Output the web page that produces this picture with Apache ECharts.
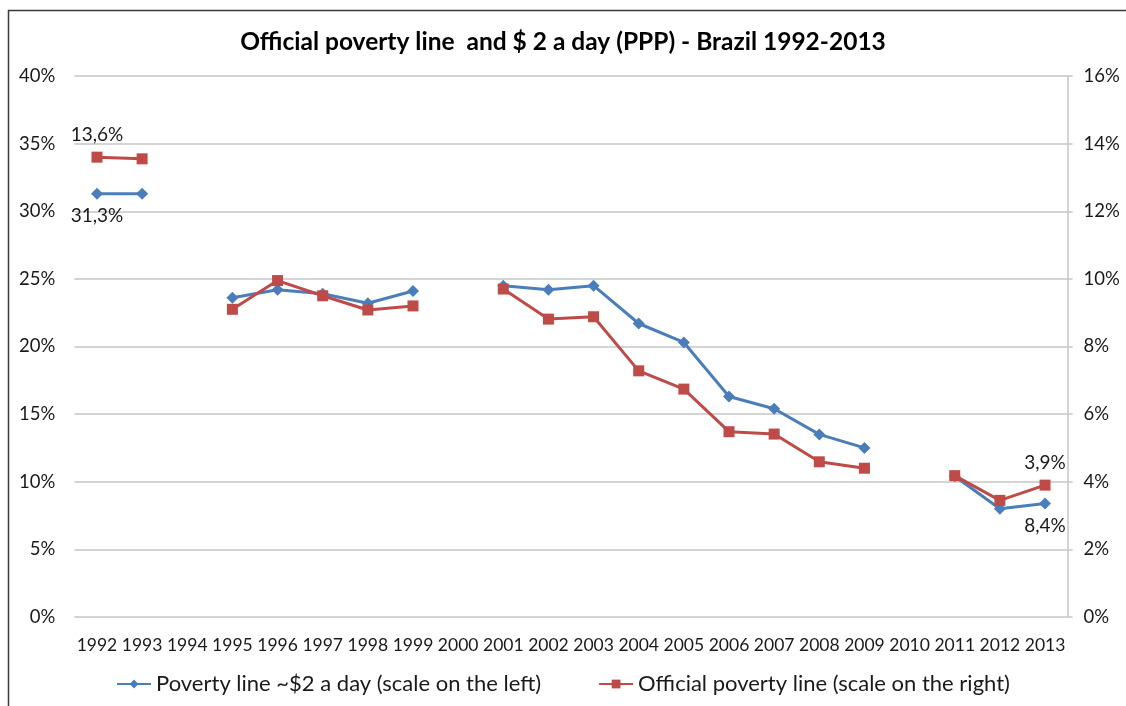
<!DOCTYPE html>
<html>
<head>
<meta charset="utf-8">
<script src="https://cdn.jsdelivr.net/npm/echarts@6/dist/echarts.min.js"></script>
<style>
  html, body { margin: 0; padding: 0; background: #fff; }
  #chart { width: 1126px; height: 706px; }
</style>
</head>
<body>
<div id="chart"></div>
<script>
// Years on the category axis
const years = ['1992','1993','1994','1995','1996','1997','1998','1999','2000','2001','2002',
               '2003','2004','2005','2006','2007','2008','2009','2010','2011','2012','2013'];

// Share of population below ~$2 a day (PPP), percent – left axis
const povertyTwoDollars = [31.3, 31.3, null, 23.6, 24.2, 23.9, 23.2, 24.1, null, 24.5, 24.2,
                           24.5, 21.7, 20.3, 16.3, 15.4, 13.5, 12.5, null, 10.4, 8.0, 8.4];

// Share below the official poverty line, percent – right axis
const povertyOfficial = [13.6, 13.55, null, 9.1, 9.95, 9.5, 9.08, 9.2, null, 9.7, 8.81,
                         8.88, 7.28, 6.74, 5.48, 5.41, 4.59, 4.4, null, 4.18, 3.45, 3.9];

// Tick settings for the two value axes
const leftTicks = { min: 0, max: 40, interval: 5 };
const rightTicks = { min: 0, max: 16, interval: 2 };

const seriesNames = ['Poverty line ~$2 a day (scale on the left)',
                     'Official poverty line (scale on the right)'];
const chartTitle = 'Official poverty line  and $ 2 a day (PPP) - Brazil 1992-2013';

const FONT = 'Lato';
const TEXT = '#1a1a1a';
const fmtPct = v => v.toFixed(1).replace('.', ',') + '%';

// Data points that carry a value label: index -> label position
const blueLabels = { 0: 'bottom', 21: 'bottom' };
const redLabels = { 0: 'top', 21: 'top' };

function buildData(values, labels) {
  return values.map((v, i) => {
    if (v === null) return '-';
    if (labels[i]) {
      return {
        value: v,
        label: {
          show: true, position: labels[i], distance: 7,
          formatter: () => fmtPct(v),
          fontFamily: FONT, fontSize: 19, color: TEXT
        }
      };
    }
    return v;
  });
}

const chart = echarts.init(document.getElementById('chart'), null, { renderer: 'canvas' });

chart.setOption({
  animation: false,
  backgroundColor: '#fff',
  title: {
    text: chartTitle,
    left: 'center',
    top: 25,
    textStyle: { fontFamily: FONT, fontWeight: 'bold', fontSize: 24.5, color: '#000' }
  },
  graphic: [{
    type: 'rect',
    shape: { x: 8.5, y: 10.5, width: 1130, height: 710 },
    style: { fill: 'none', stroke: '#3a3a3a', lineWidth: 1.5 },
    silent: true
  }],
  grid: { left: 74.4, right: 58.4, top: 76, bottom: 89, containLabel: false },
  legend: {
    bottom: 6,
    left: 'center',
    itemGap: 57,
    itemWidth: 34,
    itemHeight: 11,
    textStyle: { fontFamily: FONT, fontSize: 22, color: TEXT },
    data: seriesNames
  },
  xAxis: {
    type: 'category',
    data: years,
    boundaryGap: true,
    axisLine: { show: false },
    axisTick: { show: false },
    axisLabel: { fontFamily: FONT, fontSize: 17.5, color: TEXT, margin: 19, interval: 0 }
  },
  yAxis: [
    {
      type: 'value',
      position: 'left',
      min: leftTicks.min, max: leftTicks.max, interval: leftTicks.interval,
      axisLine: { show: false },
      axisTick: { show: false },
      splitLine: { lineStyle: { color: '#c6c6c6', width: 1.5 } },
      axisLabel: { fontFamily: FONT, fontSize: 18.5, color: TEXT, margin: 19,
                   formatter: v => v + '%' }
    },
    {
      type: 'value',
      position: 'right',
      min: rightTicks.min, max: rightTicks.max, interval: rightTicks.interval,
      axisLine: { show: true, lineStyle: { color: '#c6c6c6', width: 1.5 } },
      axisTick: { show: true, length: 5, lineStyle: { color: '#c6c6c6', width: 1.5 } },
      splitLine: { show: false },
      axisLabel: { fontFamily: FONT, fontSize: 18.5, color: TEXT, margin: 16,
                   formatter: v => v + '%' }
    }
  ],
  series: [
    {
      name: seriesNames[0],
      type: 'line',
      yAxisIndex: 0,
      data: buildData(povertyTwoDollars, blueLabels),
      connectNulls: false,
      symbol: 'diamond',
      symbolSize: 12,
      lineStyle: { color: '#4a7ebb', width: 3 },
      itemStyle: { color: '#4a7ebb' },
      z: 2
    },
    {
      name: seriesNames[1],
      type: 'line',
      yAxisIndex: 1,
      data: buildData(povertyOfficial, redLabels),
      connectNulls: false,
      symbol: 'rect',
      symbolSize: 11,
      lineStyle: { color: '#be4b48', width: 3 },
      itemStyle: { color: '#be4b48' },
      z: 3
    }
  ]
});
</script>
</body>
</html>
